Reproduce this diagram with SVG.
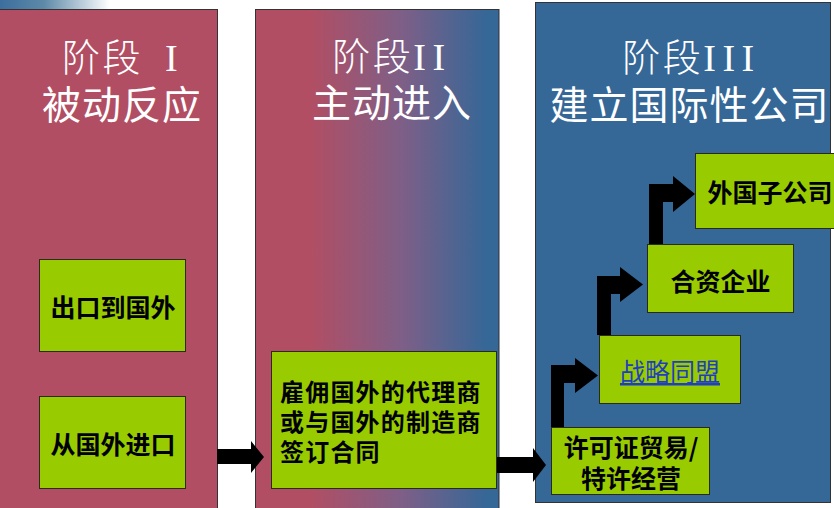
<svg xmlns="http://www.w3.org/2000/svg" width="834" height="508" viewBox="0 0 834 508">
<defs>
<linearGradient id="gMid" x1="0" y1="0" x2="1" y2="0">
<stop offset="0" stop-color="#B24E63"/>
<stop offset="0.22" stop-color="#B24E63"/>
<stop offset="0.6" stop-color="#7E5F87"/>
<stop offset="0.95" stop-color="#356797"/>
<stop offset="1" stop-color="#356797"/>
</linearGradient>
<linearGradient id="gStrip" x1="0" y1="0" x2="1" y2="0">
<stop offset="0" stop-color="#3C6E9E"/>
<stop offset="0.4" stop-color="#5E8AA8"/>
<stop offset="1" stop-color="#FFFFFF"/>
</linearGradient>
<style>
.panel{stroke:#333;stroke-width:1}
.t1{font-family:"Liberation Serif","Noto Sans CJK SC",serif;font-size:38px;fill:#fff;text-anchor:middle;font-weight:300;letter-spacing:2.5px}
.t2{font-family:"Noto Sans CJK SC",sans-serif;font-size:39px;fill:#fff;text-anchor:middle;letter-spacing:1px}
.box{fill:#99CC00;stroke:#2b2b1a;stroke-width:1}
.lbl{font-family:"Noto Sans CJK SC",sans-serif;font-size:25px;font-weight:bold;fill:#000;text-anchor:middle}
.ml{font-size:24px;letter-spacing:1.2px;text-anchor:start}
.arr{fill:#000}
</style>
</defs>
<rect x="0" y="0" width="834" height="508" fill="#fff"/>
<rect x="0" y="0" width="110" height="9" fill="url(#gStrip)"/>

<g id="stage1">
<rect class="panel" x="-1" y="9.5" width="218.5" height="510" fill="#B24E63"/>
<text class="t1" x="121" y="71">阶段<tspan dx="22">I</tspan></text>
<text class="t2" x="122" y="119">被动反应</text>
</g>
<g id="stage2">
<rect class="panel" x="255.5" y="9.5" width="243.5" height="510" fill="url(#gMid)"/>
<text class="t1" x="390" y="70">阶段I<tspan dx="4">I</tspan></text>
<text class="t2" x="392" y="117">主动进入</text>
</g>
<g id="stage3">
<rect class="panel" x="535.5" y="2.5" width="295" height="500" fill="#356797"/>
<text class="t1" x="689.5" y="71">阶段I<tspan dx="4">I</tspan><tspan dx="4">I</tspan></text>
<text class="t2" x="689.5" y="119">建立国际性公司</text>
</g>

<g id="connectors">
<polygon class="arr" points="217,449 251,449 251,441 264,457 251,473 251,464 217,464"/>
<polygon class="arr" points="497,457 533,457 533,448 546,465 533,482 533,473 497,473"/>
<polygon class="arr" points="551,427 551,365 575,365 575,358 598,375.5 575,393 575,383 564,383 564,427"/>
<polygon class="arr" points="597,335 597,276 620,276 620,267 643,284.5 620,302 620,294 611,294 611,335"/>
<polygon class="arr" points="649,244 649,184 673,184 673,176 695,194 673,212 673,202 663,202 663,244"/>
</g>

<g id="export">
<rect class="box" x="39.5" y="259.5" width="146" height="92"/>
<text class="lbl" x="113" y="317">出口到国外</text>
</g>
<g id="import">
<rect class="box" x="39.5" y="396.5" width="146" height="92"/>
<text class="lbl" x="113" y="454">从国外进口</text>
</g>
<g id="agent">
<rect class="box" x="271.5" y="351.5" width="225" height="137"/>
<text class="lbl ml" x="280" y="401">雇佣国外的代理商</text>
<text class="lbl ml" x="280" y="431">或与国外的制造商</text>
<text class="lbl ml" x="280" y="461">签订合同</text>
</g>
<g id="license">
<rect class="box" x="551.5" y="427.5" width="158" height="67"/>
<text class="lbl" x="631" y="457">许可证贸易/</text>
<text class="lbl" x="631" y="488">特许经营</text>
</g>
<g id="alliance">
<rect class="box" x="599.5" y="335.5" width="141" height="68"/>
<text class="lbl" x="670" y="381" style="fill:#1F3FC0;text-decoration:underline;font-weight:normal">战略同盟</text>
</g>
<g id="jv">
<rect class="box" x="647.5" y="244.5" width="146" height="68"/>
<text class="lbl" x="720.5" y="291">合资企业</text>
</g>
<g id="subsidiary">
<rect class="box" x="695.5" y="153.5" width="145" height="75"/>
<text class="lbl" x="770" y="202">外国子公司</text>
</g>
</svg>
